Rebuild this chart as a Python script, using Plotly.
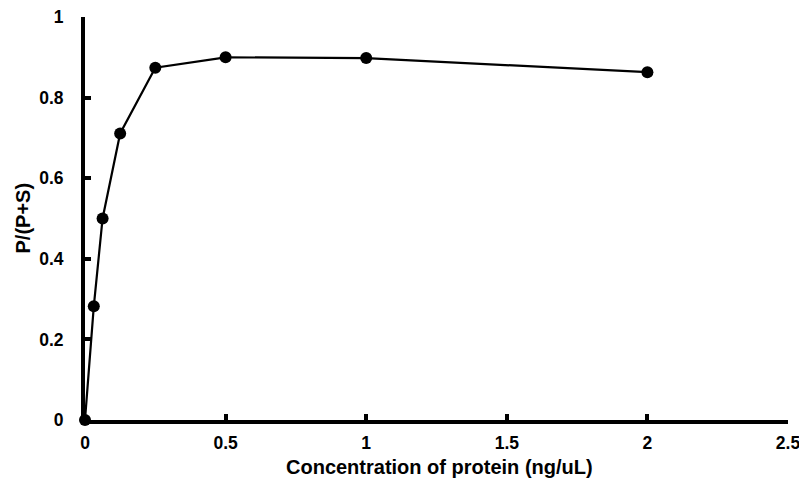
import plotly.graph_objects as go

concentration = [0, 0.03125, 0.0625, 0.125, 0.25, 0.5, 1, 2]
ratio = [0, 0.282, 0.500, 0.711, 0.874, 0.900, 0.898, 0.863]
x_ticks = [0, 0.5, 1, 1.5, 2, 2.5]
x_tick_labels = ["0", "0.5", "1", "1.5", "2", "2.5"]
y_ticks = [0, 0.2, 0.4, 0.6, 0.8, 1]
y_tick_labels = ["0", "0.2", "0.4", "0.6", "0.8", "1"]
x_title = "Concentration of protein (ng/uL)"
y_title = "P/(P+S)"

font_family = "Liberation Sans, Arial, sans-serif"
tick_fs = 17.5
title_fs = 20

fig = go.Figure()
fig.add_trace(go.Scatter(
    x=concentration, y=ratio, mode="lines+markers",
    line=dict(color="black", width=2.2),
    marker=dict(color="black", size=12),
    cliponaxis=False, showlegend=False,
))

fig.add_annotation(
    text="<b>%s</b>" % x_title, xref="paper", yref="paper", x=0.5, y=0,
    xanchor="center", yanchor="middle", xshift=3, yshift=-47, showarrow=False,
    font=dict(family=font_family, size=title_fs, color="black"),
)
fig.add_annotation(
    text="<b>%s</b>" % y_title, xref="paper", yref="paper", x=0, y=0.5,
    xanchor="center", yanchor="middle", xshift=-63, textangle=-90, showarrow=False,
    font=dict(family=font_family, size=title_fs, color="black"),
)

fig.update_layout(
    width=799, height=480,
    margin=dict(l=77, r=19, t=9, b=68),
    paper_bgcolor="white", plot_bgcolor="white",
    font=dict(family=font_family, size=tick_fs, color="black"),
    xaxis=dict(
        range=[0, 2.5], tickvals=x_ticks,
        ticktext=["<b>%s</b>" % t for t in x_tick_labels],
        automargin=False, ticklabeloverflow="allow",
        showgrid=False, zeroline=False, showline=True, linecolor="black", linewidth=4,
        ticks="inside", ticklen=6, tickwidth=3.5, tickcolor="black",
        ticklabelstandoff=4,
        tickfont=dict(family=font_family, size=tick_fs, color="black"),
    ),
    yaxis=dict(
        range=[0, 1], tickvals=y_ticks,
        ticktext=["<b>%s</b>" % t for t in y_tick_labels],
        automargin=False, ticklabeloverflow="allow",
        showgrid=False, zeroline=False, showline=True, linecolor="black", linewidth=4,
        ticks="inside", ticklen=6, tickwidth=3.5, tickcolor="black",
        ticklabelstandoff=14,
        tickfont=dict(family=font_family, size=tick_fs, color="black"),
    ),
)

fig.write_html("out.html")
